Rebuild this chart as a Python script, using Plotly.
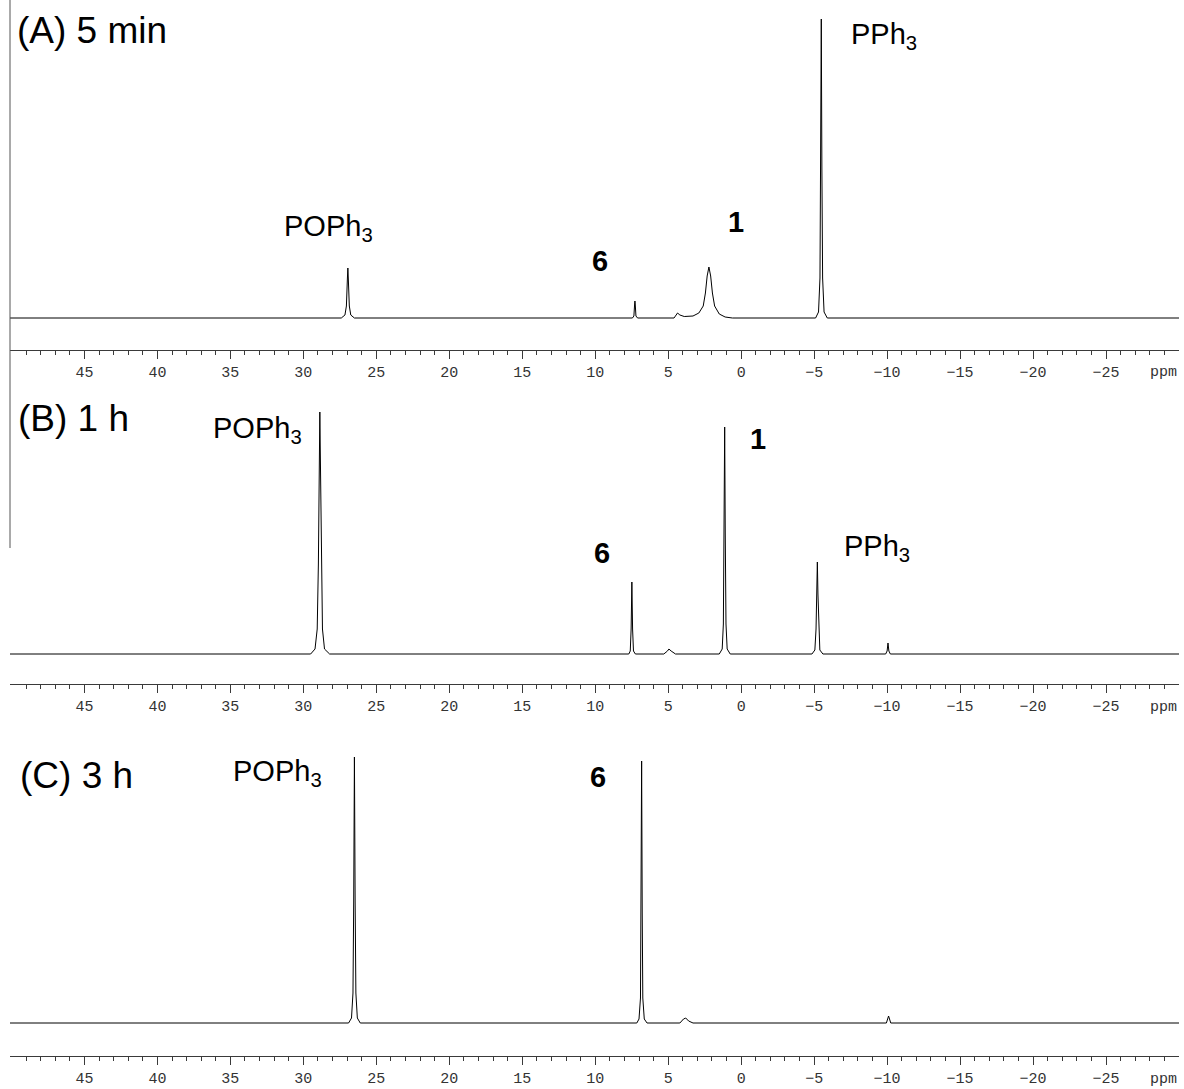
import plotly.graph_objects as go

W, H = 1184, 1089

# ---------------- data (ppm, intensity in arbitrary units) ----------------
ppm_A = [50.1, 27.4, 27.15, 27.05, 26.98, 26.95, 26.92, 26.85, 26.75, 26.5,
         7.45, 7.35, 7.3, 7.28, 7.26, 7.21, 7.1,
         4.6, 4.45, 4.36, 4.2, 3.9,
         3.3, 2.9, 2.6, 2.45, 2.33, 2.21, 2.09, 1.97, 1.82, 1.5, 1.1, 0.6,
         -5.1, -5.3, -5.4, -5.45, -5.49, -5.53, -5.58, -5.68, -5.9, -30.0]
int_A = [0, 0, 3, 12, 40, 50, 40, 12, 3, 0,
         0, 2, 14, 17, 14, 2, 0,
         0, 3, 5, 3, 1.5,
         2, 5, 12, 25, 42, 51, 42, 25, 12, 4, 1, 0,
         0, 6, 40, 150, 299, 150, 40, 6, 0, 0]

ppm_B = [50.1, 29.5, 29.2, 29.05, 28.97, 28.92, 28.87, 28.82, 28.77, 28.69, 28.55, 28.2,
         7.7, 7.6, 7.54, 7.49, 7.44, 7.38, 7.25,
         5.3, 5.05, 4.95, 4.8, 4.5,
         1.5, 1.3, 1.22, 1.17, 1.13, 1.09, 1.04, 0.96, 0.75,
         -4.85, -5.05, -5.13, -5.18, -5.22, -5.26, -5.31, -5.39, -5.6,
         -9.9, -10.0, -10.06, -10.12, -10.22, -30.0]
int_B = [0, 0, 5, 25, 90, 180, 242, 180, 90, 25, 5, 0,
         0, 3, 25, 72, 25, 3, 0,
         0, 3, 5, 3, 0,
         0, 5, 30, 120, 227, 120, 30, 5, 0,
         0, 4, 25, 60, 92, 60, 25, 4, 0,
         0, 3, 11, 3, 0, 0]

ppm_C = [50.1, 26.9, 26.7, 26.6, 26.55, 26.5, 26.45, 26.4, 26.3, 26.1,
         7.15, 7.0, 6.9, 6.86, 6.82, 6.78, 6.74, 6.64, 6.45,
         4.2, 3.95, 3.8, 3.6, 3.3,
         -9.95, -10.1, -10.25, -30.0]
int_C = [0, 0, 5, 30, 120, 266, 120, 30, 5, 0,
         0, 4, 25, 110, 262, 110, 25, 4, 0,
         0, 4, 5, 2, 0,
         0, 7, 0, 0]

major_ticks = [45, 40, 35, 30, 25, 20, 15, 10, 5, 0, -5, -10, -15, -20, -25]
minor_ticks = [v for v in range(49, -30, -1) if v % 5 != 0]
tick_text = [str(v).replace("-", "\u2212") for v in major_ticks]
x_range = [50.1, -30.0]

# ---------------- layout helpers (pixel geometry) ----------------
X0, X1 = 10, 1179


def px_x(p):
    return p / W


def px_y(p):
    return 1 - p / H


# panels: (top px, axis px, baseline px)
panels = [(10, 350, 318), (395, 684, 654), (740, 1056, 1023)]
spectra = [(ppm_A, int_A), (ppm_B, int_B), (ppm_C, int_C)]

fig = go.Figure()
layout = dict(
    width=W, height=H,
    margin=dict(l=0, r=0, t=0, b=0),
    paper_bgcolor="white", plot_bgcolor="white",
    showlegend=False,
)

axis_color = "#3a3a3a"
mono = "Liberation Mono, Courier New, monospace"
for i, ((top, axis, base), (xs, ys)) in enumerate(zip(panels, spectra), start=1):
    xn = "x" if i == 1 else f"x{i}"
    yn = "y" if i == 1 else f"y{i}"
    fig.add_trace(go.Scatter(x=xs, y=ys, mode="lines",
                             line=dict(color="black", width=1),
                             xaxis=xn, yaxis=yn, hoverinfo="skip"))
    xkey = "xaxis" if i == 1 else f"xaxis{i}"
    ykey = "yaxis" if i == 1 else f"yaxis{i}"
    layout[xkey] = dict(
        domain=[px_x(X0), px_x(X1)], anchor=yn, range=x_range,
        showline=True, linecolor=axis_color, linewidth=1,
        showgrid=False, zeroline=False,
        tickmode="array", tickvals=major_ticks, ticktext=tick_text,
        ticks="outside", ticklen=8, tickwidth=1, tickcolor=axis_color,
        tickfont=dict(family=mono, size=15, color="#333333"),
        ticklabelstandoff=0,
        minor=dict(tickmode="array", tickvals=minor_ticks, ticks="outside",
                   ticklen=4, tickwidth=1, tickcolor=axis_color, showgrid=False),
    )
    layout[ykey] = dict(
        domain=[px_y(axis), px_y(top)], anchor=xn,
        range=[-(axis - base), base - top],
        visible=False, showgrid=False, zeroline=False,
    )

fig.update_layout(**layout)

label_font = dict(family="Liberation Sans, Arial, sans-serif", color="black")
annotations = []


def add_text(text, xc, yc, size, bold=False, xanchor="center"):
    t = f"<b>{text}</b>" if bold else text
    annotations.append(dict(text=t, x=px_x(xc), y=px_y(yc), xref="paper", yref="paper",
                            xanchor=xanchor, yanchor="middle", showarrow=False,
                            font=dict(size=size, **label_font)))


# panel titles
add_text("(A) 5 min", 15, 30, 37, xanchor="left")
add_text("(B) 1 h", 16, 418, 37, xanchor="left")
add_text("(C) 3 h", 18, 775, 37, xanchor="left")

# peak labels
add_text("POPh<sub>3</sub>", 328, 228, 29)
add_text("PPh<sub>3</sub>", 884, 36, 29)
add_text("1", 736, 222, 29, bold=True)
add_text("6", 600, 261, 29, bold=True)

add_text("POPh<sub>3</sub>", 257, 430, 29)
add_text("1", 758, 439, 29, bold=True)
add_text("6", 602, 553, 29, bold=True)
add_text("PPh<sub>3</sub>", 877, 548, 29)

add_text("POPh<sub>3</sub>", 277, 773, 29)
add_text("6", 598, 777, 29, bold=True)

# ppm unit labels
for axis_px in (350, 684, 1056):
    annotations.append(dict(text="ppm", x=px_x(1179), y=px_y(axis_px + 23), xref="paper", yref="paper",
                            xanchor="right", yanchor="middle", showarrow=False,
                            font=dict(family=mono, size=15, color="#333333")))

fig.update_layout(annotations=annotations)

# stray vertical rule on the left edge (part of the original figure)
fig.add_shape(type="line", xref="paper", yref="paper",
              x0=px_x(10), x1=px_x(10), y0=px_y(0), y1=px_y(548),
              line=dict(color="#555555", width=1))

fig.write_html(
    "out.html",
    config={"displayModeBar": False},
    post_script="document.body.style.margin='0px';document.body.style.padding='0px';",
)
